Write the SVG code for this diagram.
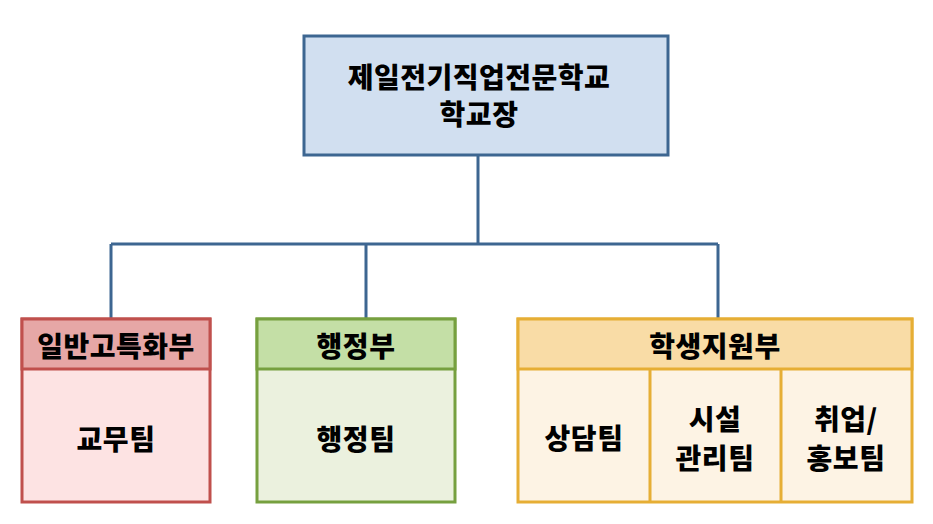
<svg xmlns="http://www.w3.org/2000/svg" width="933" height="524" viewBox="0 0 933 524">
<style>
text{font-family:"Noto Sans CJK KR","Noto Sans",sans-serif;font-weight:900;font-size:28px;letter-spacing:0.5px;fill:#000;text-anchor:middle;dominant-baseline:central}
.conn{fill:none;stroke:#3d6691;stroke-width:3}
</style>
<rect width="933" height="524" fill="#fff"/>
<g id="connectors">
<path class="conn" d="M478 155V244M111 244H718M111 244V319M366 244V319M718 244V319"/>
</g>
<g id="top">
<rect x="304" y="36" width="364" height="119" fill="#d1dff0" stroke="#3d6691" stroke-width="3"/>
<text x="479" y="76">제일전기직업전문학교</text>
<text x="479" y="113">학교장</text>
</g>
<g id="general">
<rect x="22" y="319" width="188" height="183" fill="#fde3e3" stroke="#c0504d" stroke-width="3"/>
<rect x="22" y="319" width="188" height="50" fill="#e6a7a6" stroke="#c0504d" stroke-width="3"/>
<text x="116" y="345">일반고특화부</text>
<text x="116" y="438">교무팀</text>
</g>
<g id="admin">
<rect x="257" y="319" width="198" height="183" fill="#ebf1de" stroke="#76a03f" stroke-width="3"/>
<rect x="257" y="319" width="198" height="50" fill="#c4dfa6" stroke="#76a03f" stroke-width="3"/>
<text x="356" y="345">행정부</text>
<text x="356" y="438">행정팀</text>
</g>
<g id="student">
<rect x="518" y="319" width="394" height="183" fill="#fdf3e4" stroke="#e6ae35" stroke-width="3"/>
<rect x="518" y="319" width="394" height="50" fill="#f9dca6" stroke="#e6ae35" stroke-width="3"/>
<path d="M650 369V502M781 369V502" stroke="#e6ae35" stroke-width="3"/>
<text x="715" y="345">학생지원부</text>
<text x="584" y="437">상담팀</text>
<text x="715" y="418">시설</text>
<text x="715" y="457">관리팀</text>
<text x="846" y="418">취업/</text>
<text x="846" y="457">홍보팀</text>
</g>
</svg>
